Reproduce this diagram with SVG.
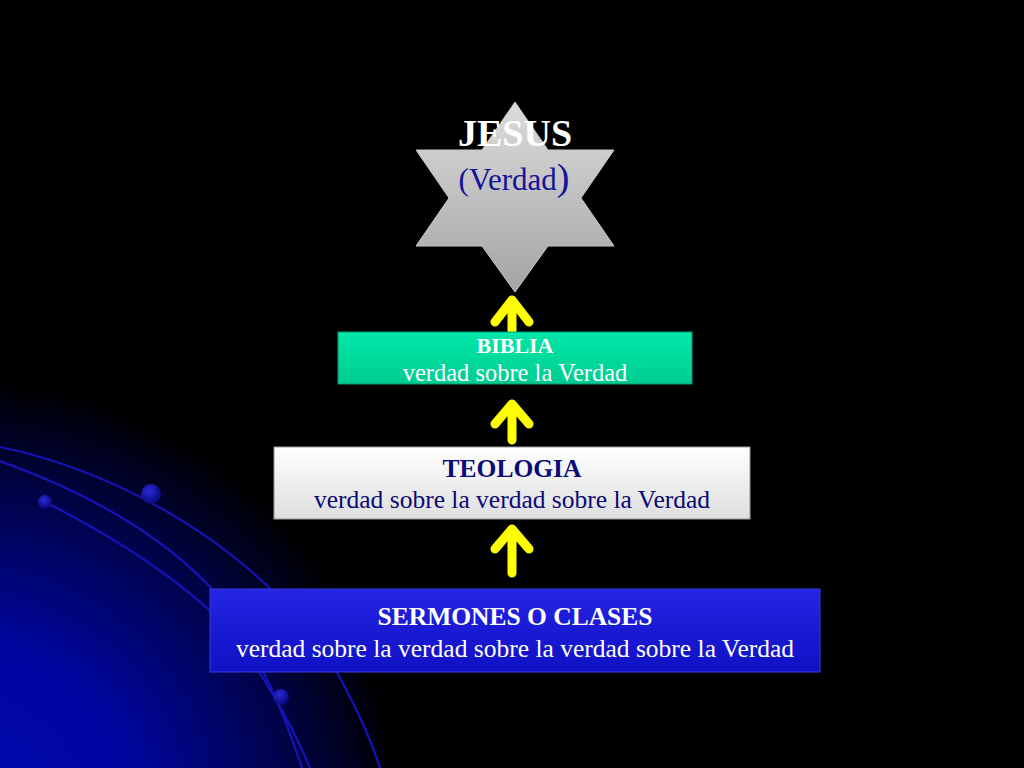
<svg xmlns="http://www.w3.org/2000/svg" width="1024" height="768" viewBox="0 0 1024 768">
<defs>
<radialGradient id="glow" cx="-40" cy="820" r="440" gradientUnits="userSpaceOnUse">
<stop offset="0" stop-color="#0008b0"/>
<stop offset="0.4" stop-color="#0006a0"/>
<stop offset="0.75" stop-color="#000348"/>
<stop offset="1" stop-color="#000000"/>
</radialGradient>
<radialGradient id="dot" cx="0.4" cy="0.35" r="0.6">
<stop offset="0" stop-color="#2a2ad8"/>
<stop offset="1" stop-color="#0a0a80"/>
</radialGradient>
<linearGradient id="starG" x1="0" y1="0" x2="0" y2="1">
<stop offset="0" stop-color="#dcdcdc"/>
<stop offset="1" stop-color="#a4a4a4"/>
</linearGradient>
<linearGradient id="greenG" x1="0" y1="0" x2="0" y2="1">
<stop offset="0" stop-color="#00e8aa"/>
<stop offset="1" stop-color="#00cc90"/>
</linearGradient>
<linearGradient id="whiteG" x1="0" y1="0" x2="0" y2="1">
<stop offset="0" stop-color="#ffffff"/>
<stop offset="1" stop-color="#dedede"/>
</linearGradient>
<linearGradient id="blueG" x1="0" y1="0" x2="0" y2="1">
<stop offset="0" stop-color="#2424e4"/>
<stop offset="1" stop-color="#1010c4"/>
</linearGradient>
<style>
.arc{fill:none;stroke:#1414b8;stroke-width:2.2}
.arrow{fill:none;stroke:#ffff00;stroke-width:9;stroke-linecap:round;stroke-linejoin:round}
.t{font-family:"Liberation Serif","Times New Roman",serif;font-size:25.5px;text-anchor:middle}
.b{font-weight:bold}
.w{fill:#ffffff}
.n{fill:#0a0a78}
</style>
</defs>
<rect x="0" y="0" width="1024" height="768" fill="#000000"/>
<rect x="0" y="360" width="460" height="408" fill="url(#glow)"/>
<g id="background-arcs">
<path class="arc" d="M0,447 C110,470 250,540 330,660 C350,695 368,730 380,768"/>
<path class="arc" d="M0,461 C95,495 170,540 222,600 C250,640 280,700 302,768"/>
<path class="arc" d="M45,502 C120,540 180,580 225,625 C255,660 290,720 310,768"/>
<circle cx="151" cy="494" r="10" fill="url(#dot)"/>
<circle cx="45" cy="502" r="7" fill="url(#dot)"/>
<circle cx="281" cy="697" r="8" fill="url(#dot)"/>
</g>
<g id="connectors">
<path class="arrow" d="M512,338 V300 M495,322 L512,300 L529,322"/>
<path class="arrow" d="M512,440 V404 M495,424 L512,404 L529,424"/>
<path class="arrow" d="M512,573 V529 M495,549 L512,529 L529,549"/>
</g>
<g id="node-jesus">
<polygon points="515,102 548,150 614,150 581,198 614,246 548,246 515,292 482,246 416,246 449,198 416,150 482,150" fill="url(#starG)" stroke="#c8c8c8" stroke-width="1"/>
<text class="t b w" x="515" y="146" style="font-size:38px">JESUS</text>
<text class="t" x="514" y="190" fill="#141496" style="font-size:31px">(Verdad<tspan style="font-size:38px">)</tspan></text>
</g>
<g id="node-biblia">
<rect x="338" y="332" width="354" height="52" fill="url(#greenG)" stroke="#0a9a70" stroke-width="1"/>
<text class="t b w" x="515" y="353" style="font-size:22px">BIBLIA</text>
<text class="t w" x="515" y="381" style="font-size:24.5px">verdad sobre la Verdad</text>
</g>
<g id="node-teologia">
<rect x="274" y="447" width="476" height="72" fill="url(#whiteG)" stroke="#9a9a9a" stroke-width="1"/>
<text class="t b n" x="512" y="477">TEOLOGIA</text>
<text class="t n" x="512" y="508">verdad sobre la verdad sobre la Verdad</text>
</g>
<g id="node-sermones">
<rect x="210" y="589" width="610" height="83" fill="url(#blueG)" stroke="#3a3ae0" stroke-width="1"/>
<text class="t b w" x="515" y="625">SERMONES O CLASES</text>
<text class="t w" x="515" y="657">verdad sobre la verdad sobre la verdad sobre la Verdad</text>
</g>
</svg>
